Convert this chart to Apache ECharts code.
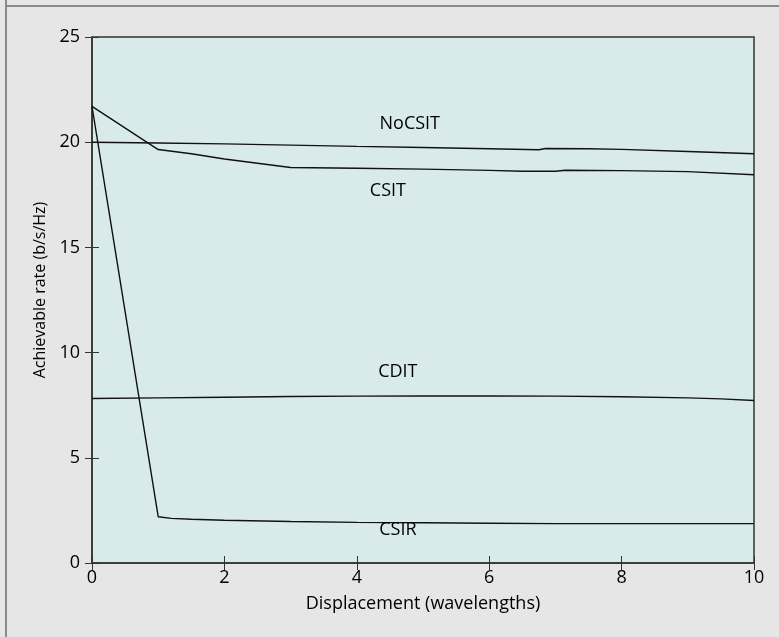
<!DOCTYPE html>
<html>
<head>
  <meta charset="utf-8">
  <title>Achievable rate vs displacement</title>
  <style>
    html, body { margin: 0; padding: 0; background: #e6e6e7; }
    #chart { width: 779px; height: 637px; }
  </style>
</head>
<body>
  <div id="chart"></div>
  <script src="https://cdn.jsdelivr.net/npm/echarts@6/dist/echarts.min.js"></script>
  <script type="text/javascript">
    // curve values
    var noCsitX = [0, 1, 2, 3, 4, 5, 6, 6.75, 6.85, 7.5, 8, 9, 10];
    var noCsitY = [20.0, 19.96, 19.92, 19.86, 19.8, 19.75, 19.69, 19.64, 19.7, 19.69, 19.66, 19.56, 19.45];

    var csitX = [0, 1, 1.5, 2, 2.5, 3, 4, 5, 6, 6.5, 7, 7.15, 8, 9, 10];
    var csitY = [21.7, 19.65, 19.45, 19.2, 19.0, 18.8, 18.76, 18.72, 18.66, 18.62, 18.62, 18.67, 18.65, 18.6, 18.45];

    var cditX = [0, 1, 2, 3, 4, 5, 6, 7, 8, 9, 9.5, 10];
    var cditY = [7.82, 7.85, 7.88, 7.91, 7.93, 7.94, 7.94, 7.93, 7.9, 7.85, 7.8, 7.72];

    var csirX = [0, 1, 1.2, 1.5, 2, 3, 4, 5, 6, 7, 8, 9, 10];
    var csirY = [21.7, 2.2, 2.12, 2.08, 2.03, 1.97, 1.93, 1.91, 1.89, 1.87, 1.87, 1.87, 1.87];

    var seriesNames = ['NoCSIT', 'CSIT', 'CDIT', 'CSIR'];

    function pairs(xs, ys) {
      return xs.map(function (x, i) { return [x, ys[i]]; });
    }

    var font = 'Open Sans';
    var axisColor = '#333';
    var textColor = '#000';
    var textSize = 18;

    function curve(name, xs, ys, labelAt) {
      return {
        name: name,
        type: 'line',
        data: pairs(xs, ys),
        symbol: 'none',
        lineStyle: { color: '#111', width: 1.4 },
        z: 3,
        markPoint: {
          symbol: 'circle',
          symbolSize: 0,
          label: {
            show: true,
            formatter: name,
            color: textColor,
            fontFamily: font,
            fontSize: textSize
          },
          data: [{ coord: labelAt }]
        }
      };
    }

    var chart = echarts.init(document.getElementById('chart'));
    chart.setOption({
      backgroundColor: '#e6e6e7',
      animation: false,
      graphic: [
        { type: 'line', shape: { x1: 6, y1: 0, x2: 6, y2: 637 }, style: { stroke: '#8a8a8a', lineWidth: 2 } },
        { type: 'line', shape: { x1: 6, y1: 6, x2: 779, y2: 6 }, style: { stroke: '#8a8a8a', lineWidth: 2 } }
      ],
      grid: {
        left: 92, top: 37, right: 25, bottom: 74,
        show: true,
        backgroundColor: '#d9eaea',
        borderColor: axisColor,
        borderWidth: 1.5
      },
      xAxis: [{
        type: 'value',
        min: 0, max: 10, interval: 2,
        name: 'Displacement (wavelengths)',
        nameLocation: 'middle',
        nameGap: 32,
        nameTextStyle: { fontFamily: font, fontSize: textSize, color: textColor },
        axisLine: { show: true, lineStyle: { color: axisColor, width: 1.5 } },
        axisTick: { show: true, inside: true, length: 7, lineStyle: { color: axisColor } },
        axisLabel: { fontFamily: font, fontSize: textSize, color: textColor, margin: 6 },
        splitLine: { show: false }
      }, {
        type: 'value',
        position: 'top',
        min: 0, max: 10, interval: 2,
        axisLine: { show: false },
        axisTick: { show: true, inside: true, length: 7, lineStyle: { color: axisColor } },
        axisLabel: { show: false },
        splitLine: { show: false }
      }],
      yAxis: [{
        type: 'value',
        min: 0, max: 25, interval: 5,
        name: 'Achievable rate (b/s/Hz)',
        nameLocation: 'middle',
        nameGap: 41,
        nameTextStyle: { fontFamily: font, fontSize: 16, color: textColor, padding: [0, 0, 0, 20] },
        axisLine: { show: true, lineStyle: { color: axisColor, width: 1.5 } },
        axisTick: { show: true, inside: true, length: 7, lineStyle: { color: axisColor } },
        axisLabel: { fontFamily: font, fontSize: textSize, color: textColor, margin: 12 },
        splitLine: { show: false }
      }, {
        type: 'value',
        position: 'right',
        min: 0, max: 25, interval: 5,
        axisLine: { show: false },
        axisTick: { show: true, inside: true, length: 7, lineStyle: { color: axisColor } },
        axisLabel: { show: false },
        splitLine: { show: false }
      }],
      series: [
        curve(seriesNames[0], noCsitX, noCsitY, [4.8, 20.85]),
        curve(seriesNames[1], csitX, csitY, [4.47, 17.7]),
        curve(seriesNames[2], cditX, cditY, [4.62, 9.08]),
        curve(seriesNames[3], csirX, csirY, [4.62, 1.57])
      ]
    });
    window.addEventListener('resize', chart.resize);
  </script>
</body>
</html>
